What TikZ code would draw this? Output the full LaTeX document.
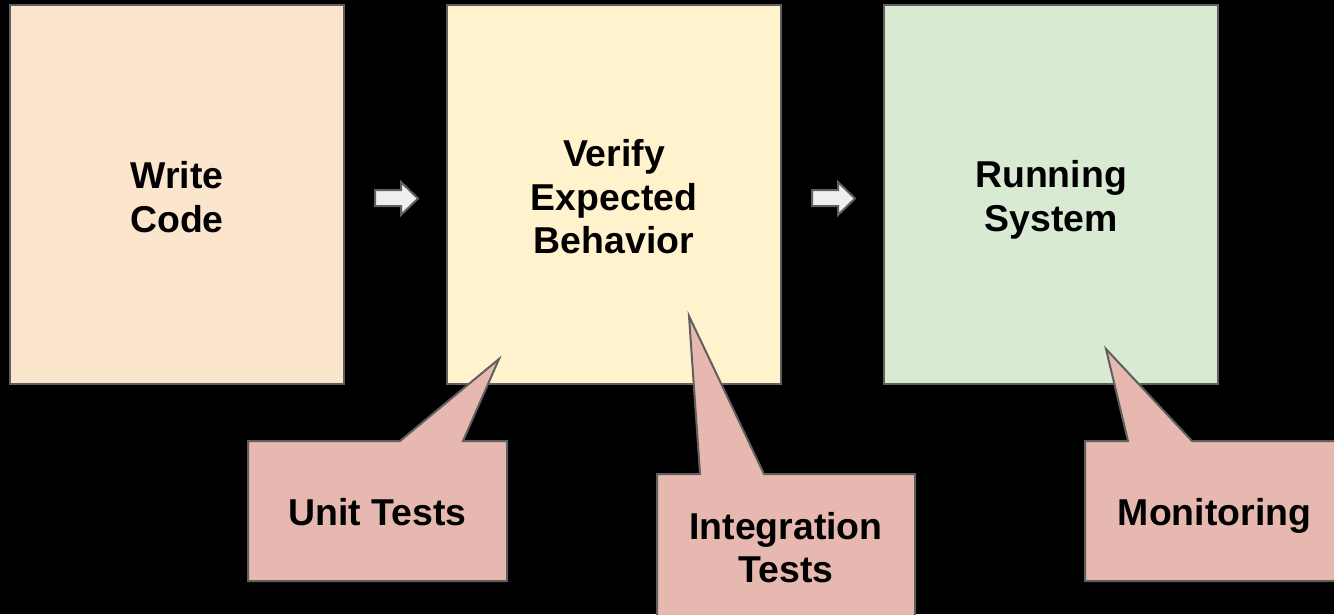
\documentclass[tikz,border=0pt]{standalone}
\usepackage{fontspec}
\setmainfont{Liberation Sans}
\definecolor{peach}{HTML}{FCE5CD}
\definecolor{cream}{HTML}{FFF2CC}
\definecolor{mint}{HTML}{D9EAD3}
\definecolor{rose}{HTML}{E6B8AF}
\definecolor{edge}{HTML}{5F5F5F}
\definecolor{arrowfill}{HTML}{EFEFEF}
\tikzset{
  txt/.style={font=\fontsize{37.4}{43.5}\selectfont\bfseries},
  stage/.style={draw=edge, line width=2pt, minimum width=334pt, minimum height=379pt},
  label/.style={txt, align=center, inner sep=0pt},
  callout/.style={draw=edge, line width=2pt, fill=rose, line join=miter},
  flow/.style={draw=edge, line width=2pt, fill=arrowfill, line join=miter}
}
\begin{document}
\begin{tikzpicture}[x=1pt, y=-1pt]
  \fill[black] (0,0) rectangle (1334,614);
  \useasboundingbox (0,0) rectangle (1334,614);
  \clip (0,0) rectangle (1334,614);

  % the three stages
  \node[stage, fill=peach] (write)  at (177,194.5) {};
  \node[stage, fill=cream] (verify) at (614,194.5) {};
  \node[stage, fill=mint]  (run)    at (1051,194.5) {};
  \node[label] at (177,197) {Write\\Code};
  \node[label] at (614,197) {Verify\\Expected\\Behavior};
  \node[label] at (1051,200) {Running\\System};

  % block arrows between the stages
  \foreach \dx in {0, 437} {
    \begin{scope}[xshift=\dx pt]
      \draw[flow] (375,190) -- (401,190) -- (401,182) -- (418,198.5)
        -- (401,215) -- (401,206) -- (375,206) -- cycle;
    \end{scope}
  }

  % callouts
  \draw[callout] (248,441) -- (400,441) -- (499,359) -- (463,441) -- (507,441)
    -- (507,581) -- (248,581) -- cycle;
  \node[label] (unit) at (377.5,512) {Unit Tests};

  \draw[callout] (657,474) -- (700,474) -- (689,316) -- (764,474) -- (915,474)
    -- (915,620) -- (657,620) -- cycle;
  \node[label] (integ) at (786,547.5) {Integration\\Tests};

  \draw[callout] (1085,441) -- (1128,441) -- (1106,349) -- (1192,441) -- (1344,441)
    -- (1344,581) -- (1085,581) -- cycle;
  \node[label] (mon) at (1214.5,516) {Monitoring};
\end{tikzpicture}
\end{document}
